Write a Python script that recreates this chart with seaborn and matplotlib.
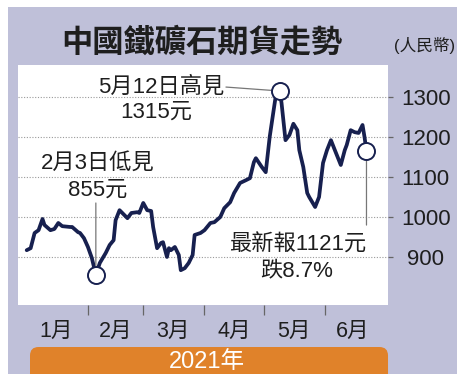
import pandas as pd
import matplotlib
matplotlib.use("Agg")
from matplotlib import pyplot as plt
from matplotlib.patches import Rectangle, FancyBboxPatch
import seaborn as sns

# iron ore futures, 2021
dates = ['01-01', '01-03', '01-05', '01-07', '01-09', '01-10', '01-13', '01-15',
         '01-17', '01-19', '01-23', '01-24', '01-27', '01-28', '01-30',
         '02-01', '02-03', '02-05', '02-07', '02-10', '02-12', '02-14', '02-15',
         '02-17', '02-21', '02-23', '02-26', '02-27',
         '03-01', '03-03', '03-05', '03-06', '03-08', '03-10', '03-11', '03-13',
         '03-14', '03-15', '03-17', '03-19', '03-20', '03-22', '03-24', '03-26',
         '03-27', '03-30',
         '04-01', '04-04', '04-06', '04-09', '04-11', '04-14', '04-16', '04-19',
         '04-22', '04-24', '04-26', '04-27', '04-30',
         '05-02', '05-04', '05-06', '05-07', '05-09', '05-10', '05-12', '05-14',
         '05-16', '05-18', '05-19', '05-21', '05-23', '05-24', '05-27', '05-29',
         '05-31',
         '06-02', '06-04', '06-06', '06-09', '06-11', '06-12', '06-14', '06-16',
         '06-18', '06-20', '06-21', '06-22']
prices = [917, 922, 960, 967, 995, 980, 967, 970,
          985, 977, 975, 975, 962, 960, 947,
          925, 897, 855, 885, 910, 930, 942, 992,
          1017, 997, 1010, 1012, 1010,
          1035, 1017, 1015, 975, 922, 935, 937, 900,
          922, 917, 925, 905, 867, 872, 885, 905,
          955, 960,
          967, 985, 987, 1000, 1022, 1037, 1060, 1085,
          1092, 1097, 1137, 1147, 1125,
          1112, 1200, 1267, 1300, 1315, 1285, 1192, 1205,
          1233, 1217, 1167, 1125, 1060, 1050, 1025, 1050,
          1135,
          1167, 1192, 1167, 1130, 1167, 1180, 1217, 1212,
          1210, 1230, 1200, 1165]

month_starts = ['02-01', '03-01', '04-01', '05-01', '06-01']
month_mids = ['01-16', '02-15', '03-16', '04-16', '05-16', '06-15']
month_labels = ['1月', '2月', '3月', '4月', '5月', '6月']
y_ticks = [900, 1000, 1100, 1200, 1300]

title = '中國鐵礦石期貨走勢'
unit = '(人民幣)'
year_label = '2021年'

df = pd.DataFrame({'date': pd.to_datetime(['2021-' + d for d in dates]),
                   'price': prices})
low = df.loc[df['price'].idxmin()]
high = df.loc[df['price'].idxmax()]
last = df.iloc[-1]
marks = pd.DataFrame([low, high, last])

sns.set_style('white')
plt.rcParams['font.family'] = ['Liberation Sans', 'Noto Sans CJK TC']

navy = '#17204f'
lavender = '#bfc0d9'
orange = '#e0822a'
grey = '#666666'

fig = plt.figure(figsize=(4.74, 3.82), dpi=100, facecolor='white')

panel = Rectangle((0.017, 0.021), 0.947, 0.961, transform=fig.transFigure,
                  facecolor=lavender, edgecolor='none', zorder=-2)
fig.patches.append(panel)

bar = FancyBboxPatch((0.0633, -0.05), 0.7553, 0.1416,
                     boxstyle='round,pad=0,rounding_size=0.018',
                     transform=fig.transFigure, facecolor=orange,
                     edgecolor='none', zorder=-1, mutation_aspect=474 / 382)
bar.set_clip_path(panel)
fig.patches.append(bar)

ax = fig.add_axes([0.038, 0.2016, 0.7806, 0.6283])
ax.set_zorder(1)
ax.set_facecolor('white')

sns.lineplot(data=df, x='date', y='price', color=navy, linewidth=2.7, ax=ax,
             zorder=2)
sns.scatterplot(data=marks, x='date', y='price', s=150, color='white',
                edgecolor=navy, linewidth=1.4, ax=ax, zorder=4)

start = pd.Timestamp('2021-02-01')
ax.set_xlim(start - pd.Timedelta(days=35.4), start + pd.Timedelta(days=151.9))
ax.set_ylim(780, 1380)

for s in ax.spines.values():
    s.set_visible(False)

ax.set_yticks(y_ticks)
ax.yaxis.tick_right()
ax.tick_params(axis='y', which='major', length=3.6, width=0.9, color=grey,
               pad=23.5, labelsize=16, labelcolor='#1e1e1e', direction='out',
               right=True, left=False, labelright=True, labelleft=False)
for lab in ax.get_yticklabels():
    lab.set_horizontalalignment('center')
ax.grid(axis='y', linestyle=(0, (1, 1.5)), color='#9a9a9a', linewidth=0.8)
ax.grid(axis='x', visible=False)

ax.set_xticks(pd.to_datetime(['2021-' + d for d in month_starts]))
ax.set_xticklabels([''] * len(month_starts))
ax.set_xticks(pd.to_datetime(['2021-' + d for d in month_mids]), minor=True)
ax.set_xticklabels(month_labels, minor=True)
ax.tick_params(axis='x', which='major', length=7, width=0.9, color=grey,
               direction='out', bottom=True)
ax.tick_params(axis='x', which='minor', length=0, pad=11.5, labelsize=15.5,
               labelcolor='#1e1e1e', bottom=True)
ax.set_xlabel('')
ax.set_ylabel('')

# annotations
txt = dict(fontsize=16, color='#1e1e1e', transform=ax.transAxes)
ax.text(0.557, 0.908, '5月12日高見', ha='right', va='center', **txt)
ax.text(0.373, 0.804, '1315元', ha='center', va='center', **txt)
ax.text(0.216, 0.592, '2月3日低見', ha='center', va='center', **txt)
ax.text(0.216, 0.479, '855元', ha='center', va='center', **txt)
ax.text(0.757, 0.250, '最新報1121元', ha='center', va='center', **txt)
ax.text(0.754, 0.142, '跌8.7%', ha='center', va='center', **txt)

line = dict(arrowstyle='-', color='#777777', lw=0.9, shrinkA=0, shrinkB=6)
ax.annotate('', xy=(high['date'], high['price']), xytext=(0.562, 0.908),
            textcoords='axes fraction', arrowprops=line, zorder=3)
ax.annotate('', xy=(low['date'], low['price']), xytext=(low['date'], 0.425),
            textcoords=('data', 'axes fraction'), arrowprops=line, zorder=3)
ax.annotate('', xy=(last['date'], last['price']), xytext=(last['date'], 0.333),
            textcoords=('data', 'axes fraction'), arrowprops=line, zorder=3)

fig.text(0.426, 0.886, title, fontsize=22.5, fontweight='bold',
         color='#1e1e1e', ha='center', va='center')
fig.text(0.895, 0.882, unit, fontsize=12, color='#1e1e1e',
         ha='center', va='center')
fig.text(0.437, 0.052, year_label, fontsize=17, color='white',
         ha='center', va='center')

fig.savefig('out.png', dpi=100, facecolor='white')
